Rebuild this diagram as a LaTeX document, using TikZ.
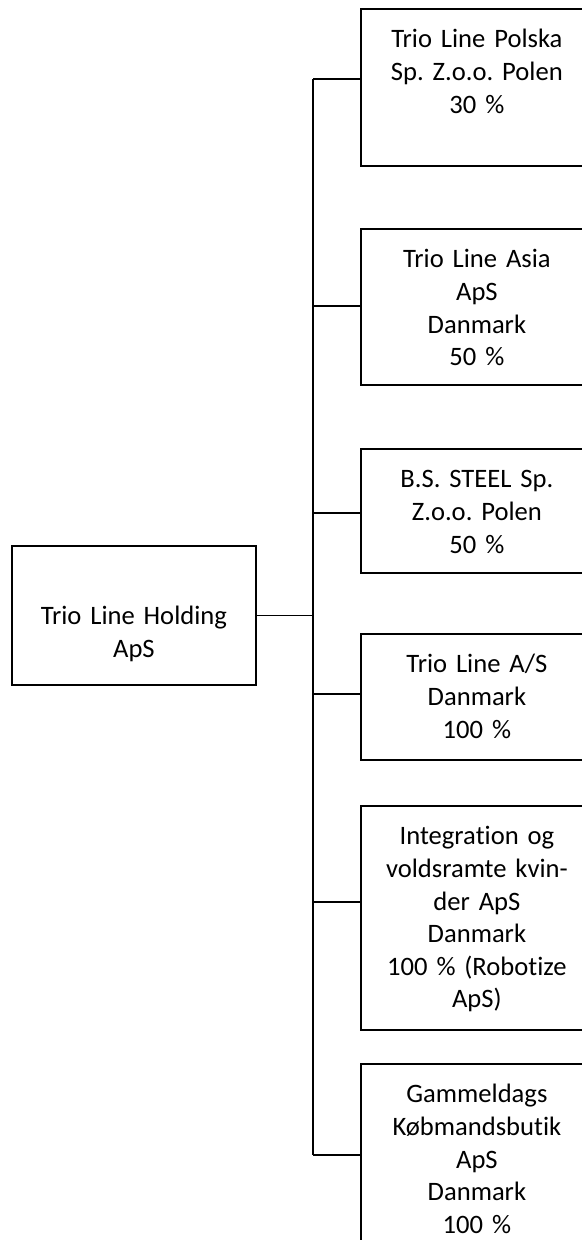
\documentclass[tikz,border=0pt]{standalone}
\usepackage{fontspec}
\setmainfont{Carlito}[Ligatures=NoCommon]
\frenchspacing
\usetikzlibrary{positioning}

\tikzset{
  firm/.style={draw, line width=0.9pt, anchor=north west, align=center,
    text width=110pt, inner xsep=3pt, inner ysep=0pt, text height=19.5pt,
    font=\fontsize{13.3}{16.3}\selectfont},
  link/.style={line width=0.9pt}
}

\begin{document}
\begin{tikzpicture}[x=0.5pt,y=-0.5pt]
        \useasboundingbox (0,0) rectangle (582,1240);
        \clip (0,0) rectangle (582,1240);
        \node[firm,text width=116pt,text height=39.5pt,text depth=30pt](hold)at(11,545){Trio Line Holding\\ApS};
        \node[firm,text depth=59pt](polska)at(360,8){Trio Line Polska\\Sp. Z.o.o. Polen\\30 \%};
        \node[firm,text depth=58.5pt](asia)at(360,228){Trio Line Asia\\ApS\\Danmark\\50 \%};
        \node[firm,text depth=42.5pt](steel)at(360,448){B.S. STEEL Sp.\\Z.o.o. Polen\\50 \%};
        \node[firm,text depth=43.5pt](triodk)at(360,633){Trio Line A/S\\Danmark\\100 \%};
        \node[firm,text depth=92.5pt](integ)at(360,805){Integration og\\voldsramte kvin-\\der ApS\\Danmark\\100 \% (Robotize\\ApS)};
        \node[firm,text depth=90pt](koeb)at(360,1063){Gammeldags\\Købmandsbutik\\ApS\\Danmark\\100 \%};
        \coordinate (s1) at (313,79);
        \coordinate (s2) at (313,306);
        \coordinate (s3) at (313,513);
        \coordinate (s4) at (313,694);
        \coordinate (s5) at (313,902);
        \coordinate (s6) at (313,1155);
        \draw[link](s1)--(s6);
        \draw[link](hold.east)--(hold.east-|s1);
        \draw[link](s1)--(s1-|polska.west);
        \draw[link](s2)--(s2-|asia.west);
        \draw[link](s3)--(s3-|steel.west);
        \draw[link](s4)--(s4-|triodk.west);
        \draw[link](s5)--(s5-|integ.west);
        \draw[link](s6)--(s6-|koeb.west);
    \end{tikzpicture}
\end{document}
